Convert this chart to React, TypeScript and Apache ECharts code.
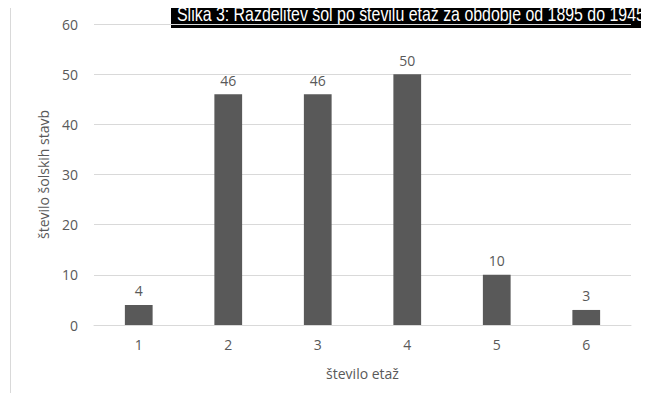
import React, { useEffect, useRef } from "react";
import * as echarts from "echarts";

const categories = ["1", "2", "3", "4", "5", "6"];
const schoolCounts = [4, 46, 46, 50, 10, 3];
const titleText = "Slika 3: Razdelitev šol po številu etaž za obdobje od 1895 do 1945";
const xAxisName = "število etaž";
const yAxisName = "število šolskih stavb";

const titleFont = "'Liberation Sans', Arial, sans-serif";
const titleSize = 20;
const titleWidth = 468;

// horizontal squeeze so the caption fills its black box like a condensed face
function titleScale(): number {
  const canvas = document.createElement("canvas");
  const ctx = canvas.getContext("2d");
  if (!ctx) return 0.72;
  ctx.font = `${titleSize}px ${titleFont}`;
  const w = ctx.measureText(titleText).width;
  return w > 0 ? titleWidth / w : 0.72;
}

export default function App() {
  const ref = useRef<HTMLDivElement>(null);

  useEffect(() => {
    if (!ref.current) return;
    const chart = echarts.init(ref.current, undefined, { renderer: "svg" });
    const font = "'Open Sans', 'Noto Sans', sans-serif";
    chart.setOption({
      animation: false,
      backgroundColor: "#ffffff",
      textStyle: { fontFamily: font },
      grid: { left: 94, right: 18, top: 24, bottom: 76, containLabel: false },
      xAxis: {
        type: "category",
        data: categories,
        name: xAxisName,
        nameLocation: "middle",
        nameGap: 41,
        nameTextStyle: { color: "#595959", fontSize: 14, fontFamily: font },
        axisLine: { show: true, lineStyle: { color: "#d9d9d9", width: 1 } },
        axisTick: { show: false },
        axisLabel: { color: "#595959", fontSize: 14, margin: 12, fontFamily: font },
      },
      yAxis: {
        type: "value",
        min: 0,
        max: 60,
        interval: 10,
        name: yAxisName,
        nameLocation: "middle",
        nameGap: 44,
        nameRotate: 90,
        nameTextStyle: { color: "#595959", fontSize: 14, fontFamily: font },
        axisLine: { show: false },
        axisTick: { show: false },
        axisLabel: { color: "#595959", fontSize: 14, margin: 16, fontFamily: font },
        splitLine: { lineStyle: { color: "#d9d9d9", width: 1 } },
      },
      series: [
        {
          type: "bar",
          data: schoolCounts,
          barWidth: "31%",
          itemStyle: { color: "#595959" },
          label: {
            show: true,
            position: "top",
            distance: 7,
            color: "#595959",
            fontSize: 14,
            fontFamily: font,
          },
        },
      ],
      graphic: [
        {
          type: "line",
          shape: { x1: 10.5, y1: 4.5, x2: 649, y2: 4.5 },
          style: { stroke: "#d9d9d9", lineWidth: 1 },
          silent: true,
        },
        {
          type: "line",
          shape: { x1: 10.5, y1: 4.5, x2: 10.5, y2: 398 },
          style: { stroke: "#d9d9d9", lineWidth: 1 },
          silent: true,
        },
        {
          type: "rect",
          shape: { x: 171, y: 0, width: 478, height: 28 },
          style: { fill: "#000000" },
          silent: true,
        },
        {
          type: "text",
          x: 177,
          y: 14,
          scaleX: titleScale(),
          style: {
            text: titleText,
            fill: "#ffffff",
            fontSize: titleSize,
            fontFamily: titleFont,
            verticalAlign: "middle",
            align: "left",
          },
          silent: true,
        },
      ],
    });
    return () => chart.dispose();
  }, []);

  return <div ref={ref} style={{ width: 649, height: 401, margin: -8 }} />;
}
